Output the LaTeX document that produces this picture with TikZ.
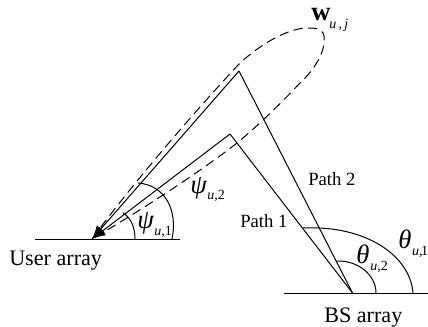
\documentclass[tikz,border=0pt]{standalone}
\usepackage{fontspec}
\setmainfont{Liberation Serif}
\usetikzlibrary{arrows.meta}
\tikzset{
  px/.style={x=0.75pt,y=-0.75pt},
  ln/.style={line width=0.75pt,black},
  lbl/.style={inner sep=0pt,font=\fontsize{16.6}{18}\selectfont},
  plbl/.style={inner sep=0pt,font=\fontsize{14}{16}\selectfont},
  sym/.style={inner sep=0pt,font=\fontsize{20}{22}\selectfont\itshape},
  subs/.style={inner sep=0pt,font=\fontsize{10.5}{12}\selectfont\itshape}
}
\begin{document}
\begin{tikzpicture}[px]
\useasboundingbox (0,0) rectangle (428,326);
\coordinate (U) at (92,239);
\coordinate (B) at (352.5,293);
\coordinate (A2) at (239,71);
\coordinate (A1) at (230,134);
\draw[ln] (35,239) -- (180,239);
\draw[ln] (284,293) -- (428,293);
\draw[ln] (B) -- (A1);
\draw[ln] (B) -- (A2);
\draw[ln,-{Latex[length=10pt,width=8pt]}] (A1) -- (U);
\draw[ln,-{Latex[length=10pt,width=8pt]}] (A2) -- (U);
% beam lobe
\draw[ln,dash pattern=on 7pt off 4pt] (U)
  .. controls (138,176) and (208,97) .. (240,63)
  .. controls (262,43) and (290,27) .. (310,28)
  .. controls (320,28) and (323,31) .. (324,36)
  .. controls (326,52) and (314,70) .. (300,83)
  .. controls (282,102) and (260,124) .. (237,143)
  .. controls (205,168) and (150,205) .. (U);
% angle arcs
\draw[ln] (135,239) .. controls (135,226) and (130,217) .. (123,213);
\draw[ln] (172,239) .. controls (178,210) and (165,185) .. (138,183);
\draw[ln] (376,293) .. controls (376,275) and (358,260) .. (336,261);
\draw[ln] (413,293) .. controls (410,255) and (365,225) .. (303,228);
% labels
\node[lbl,anchor=base west] (ua) at (9,265) {User array};
\node[lbl,anchor=base west] (bs) at (324,322) {BS array};
\node[plbl,anchor=base west] (p1) at (240,227) {Path 1};
\node[plbl,anchor=base west] (p2) at (308,185) {Path 2};
\node[sym,anchor=base west,font=\fontsize{20}{22}\selectfont\bfseries] (w) at (311,20) {w};
\node[subs,anchor=base west] (ws) at (329,28) {u\,,\,j};
\node[sym,anchor=base west] (psi1) at (137,228) {ψ};
\node[subs,anchor=base west] (psi1s) at (154,235) {u\upshape ,1};
\node[sym,anchor=base west] (psi2) at (190,193) {ψ};
\node[subs,anchor=base west] (psi2s) at (207,199) {u\upshape ,2};
\node[sym,anchor=base west] (th2) at (356,263) {θ};
\node[subs,anchor=base west] (th2s) at (370,270) {u\upshape ,2};
\node[sym,anchor=base west] (th1) at (398,248) {θ};
\node[subs,anchor=base west] (th1s) at (411.8,255) {u\upshape ,\kern-1pt 1};
\end{tikzpicture}
\end{document}
